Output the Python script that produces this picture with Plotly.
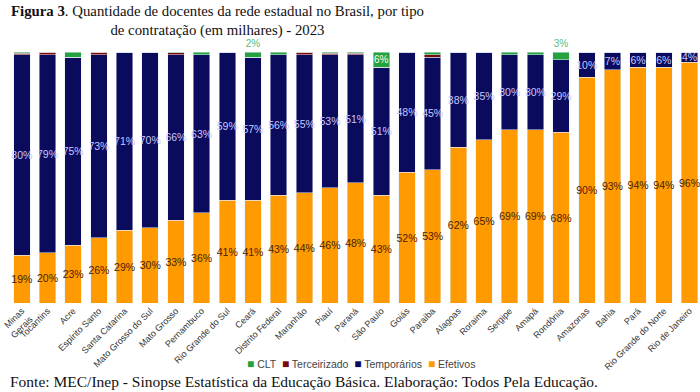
import plotly.graph_objects as go

states = ["Minas<br>Gerais", "Tocantins", "Acre", "Espírito Santo", "Santa Catarina",
          "Mato Grosso do Sul", "Mato Grosso", "Pernambuco", "Rio Grande do Sul", "Ceará",
          "Distrito Federal", "Maranhão", "Piauí", "Paraná", "São Paulo", "Goiás", "Paraíba",
          "Alagoas", "Roraima", "Sergipe", "Amapá", "Rondônia", "Amazonas", "Bahia", "Pará",
          "Rio Grande do Norte", "Rio de Janeiro"]
efetivos = [19, 20, 23, 26, 29, 30, 33, 36, 41, 41, 43, 44, 46, 48, 43, 52, 53, 62, 65, 69, 69, 68, 90, 93, 94, 94, 96]
temporarios = [80, 79, 75, 73, 71, 70, 66, 63, 59, 57, 56, 55, 53, 51, 51, 48, 45, 38, 35, 30, 30, 29, 10, 7, 6, 6, 4]
terceirizado = [0.5, 1, 0, 1, 0, 0, 0.7, 0, 0, 0, 0, 1, 0.5, 0.5, 0, 0, 1, 0, 0, 0, 0, 0, 0, 0, 0, 0, 0]
clt = [0.5, 0, 2, 0, 0, 0, 0.3, 1, 0, 2, 1, 0, 0.5, 0.5, 6, 0.5, 1, 0, 0, 1, 1, 3, 0, 0, 0, 0, 0]
clt_labels = {"Ceará": "outside", "São Paulo": "inside", "Rondônia": "outside"}
legend_names = ["CLT", "Terceirizado", "Temporários", "Efetivos"]

C_EF = "#FF9A00"
C_TE = "#0B0B5E"
C_TC = "#7A0A0A"
C_CLT = "#23A23F"
legend_colors = [C_CLT, C_TC, C_TE, C_EF]

def pct(v):
    return f"{v:.0f}%"

fig = go.Figure()
fig.add_trace(go.Bar(
    x=states, y=efetivos, name="Efetivos", marker_color=C_EF,
    text=[pct(v) for v in efetivos], textposition="inside", insidetextanchor="middle",
    textangle=0, constraintext="none",
    textfont=dict(family="Liberation Sans, Arial", size=10.5, color="#4a2300"),
))
fig.add_trace(go.Bar(
    x=states, y=temporarios, name="Temporários", marker_color=C_TE,
    text=[pct(v) for v in temporarios], textposition="inside", insidetextanchor="middle",
    textangle=0, constraintext="none",
    textfont=dict(family="Liberation Sans, Arial", size=10.5, color="#C8C8FF"),
))
fig.add_trace(go.Bar(
    x=states, y=terceirizado, name="Terceirizado", marker_color=C_TC,
    textposition="none",
))
clt_text = [pct(v) if s in clt_labels else "" for s, v in zip(states, clt)]
clt_pos = [clt_labels.get(s, "none") for s in states]
clt_col = ["#FFFFFF" if clt_labels.get(s) == "inside" else "#5DBB7A" for s in states]
fig.add_trace(go.Bar(
    x=states, y=clt, name="CLT", marker_color=C_CLT,
    text=clt_text, textposition=clt_pos, insidetextanchor="middle",
    textangle=0, constraintext="none", cliponaxis=False,
    textfont=dict(family="Liberation Sans, Arial", size=10, color=clt_col),
))

legend_text = "  ".join(
    f"<span style='color:{c};font-size:12px'>■</span> {n}" for n, c in zip(legend_names, legend_colors)
)

fig.update_layout(
    width=700, height=392,
    barmode="stack", bargap=0.357,
    margin=dict(l=9, r=0, t=52, b=89),
    plot_bgcolor="white", paper_bgcolor="white",
    showlegend=False,
    xaxis=dict(range=[-0.5, 26.41], tickangle=-45, showgrid=False, showline=False,
               ticks="", automargin=False,
               tickfont=dict(family="Liberation Sans, Arial", size=9, color="#333333")),
    yaxis=dict(range=[0, 100], visible=False, automargin=False),
    annotations=[
        dict(text="<b>Figura 3</b>. Quantidade de docentes da rede estadual no Brasil, por tipo<br>de contratação (em milhares) - 2023",
             xref="paper", yref="paper", x=0.302, y=1.125, xanchor="center", yanchor="middle",
             align="center", showarrow=False,
             font=dict(family="Liberation Serif, serif", size=14.8, color="#111111")),
        dict(text=legend_text,
             xref="paper", yref="paper", x=0.51, y=-0.243, xanchor="center", yanchor="middle",
             showarrow=False,
             font=dict(family="Liberation Sans, Arial", size=10.5, color="#444444")),
        dict(text="Fonte: MEC/Inep - Sinopse Estatística da Educação Básica. Elaboração: Todos Pela Educação.",
             xref="paper", yref="paper", x=-0.0014, y=-0.3147, xanchor="left", yanchor="middle",
             showarrow=False,
             font=dict(family="Liberation Serif, serif", size=15.5, color="#111111")),
    ],
)

fig.write_html("out.html", config={"displayModeBar": False},
               post_script="document.body.style.margin='0';document.body.style.overflow='hidden';")
